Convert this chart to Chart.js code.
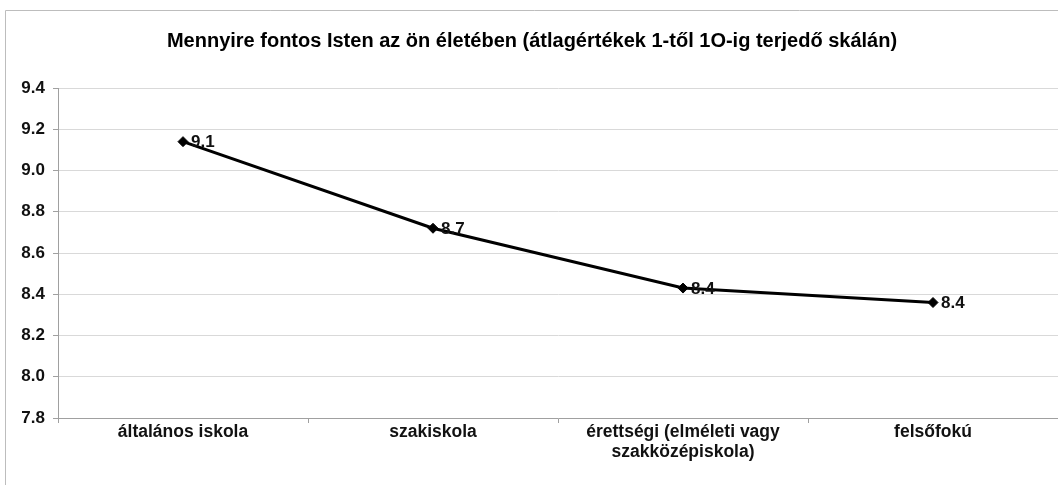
<!DOCTYPE html>
<html>
<head>
<meta charset="utf-8">
<script src="https://cdn.jsdelivr.net/npm/chart.js@4"></script>
<style>
  html, body { margin: 0; padding: 0; background: #fff; overflow: hidden; }
  #wrap { position: relative; width: 1058px; height: 485px; overflow: hidden; }
</style>
</head>
<body>
<div id="wrap"><canvas id="chart" width="1064" height="485"></canvas></div>
<script>
// -----------------------------
// Data
// -----------------------------
const chartTitle = "Mennyire fontos Isten az ön életében (átlagértékek 1-től 1O-ig terjedő skálán)";
const categories = [
  "általános iskola",
  "szakiskola",
  ["érettségi (elméleti vagy", "szakközépiskola)"],
  "felsőfokú"
];
const values = [9.14, 8.72, 8.43, 8.36];
const yMin = 7.8;
const yMax = 9.4;
const yStep = 0.2;

const FONT = "'Liberation Sans', Arial, sans-serif";

// -----------------------------
// Helper: outer frame + value labels
// -----------------------------
const framePlugin = {
  id: "frame",
  beforeDraw(chart) {
    const ctx = chart.ctx;
    ctx.save();
    ctx.strokeStyle = "#bdbdbd";
    ctx.lineWidth = 1;
    ctx.beginPath();
    ctx.moveTo(5.5, 485);
    ctx.lineTo(5.5, 10.5);
    ctx.lineTo(1064, 10.5);
    ctx.stroke();
    ctx.restore();
  }
};

const valueLabels = {
  id: "valueLabels",
  afterDatasetsDraw(chart) {
    const ctx = chart.ctx;
    const meta = chart.getDatasetMeta(0);
    ctx.save();
    ctx.font = "bold 17px " + FONT;
    ctx.fillStyle = "#111";
    ctx.textAlign = "left";
    ctx.textBaseline = "middle";
    meta.data.forEach((pt, i) => {
      ctx.fillText(values[i].toFixed(1), pt.x + 8, pt.y + 1);
    });
    ctx.restore();
  }
};

new Chart(document.getElementById("chart"), {
  type: "line",
  data: {
    labels: categories,
    datasets: [{
      data: values,
      borderColor: "#000",
      backgroundColor: "#000",
      borderWidth: 3,
      pointStyle: "rectRot",
      pointRadius: 5,
      pointBorderWidth: 1,
      tension: 0
    }]
  },
  options: {
    responsive: false,
    animation: false,
    layout: { padding: 0 },
    plugins: {
      legend: { display: false },
      tooltip: { enabled: false },
      title: {
        display: true,
        text: chartTitle,
        color: "#000",
        font: { family: FONT, size: 20, weight: "bold" },
        padding: { top: 29, bottom: 35 }
      }
    },
    scales: {
      x: {
        offset: true,
        grid: {
          offset: true,
          drawOnChartArea: false,
          drawTicks: true,
          tickLength: 5,
          color: "#a0a0a0"
        },
        border: { color: "#a0a0a0" },
        ticks: {
          color: "#111",
          font: { family: FONT, size: 17.5, weight: "bold", lineHeight: 1.15 },
          padding: -1,
          maxRotation: 0,
          autoSkip: false
        },
        afterFit(scale) { scale.height = 67; }
      },
      y: {
        min: yMin,
        max: yMax,
        grid: {
          color: "#d9d9d9",
          tickLength: 5,
          tickColor: "#a0a0a0"
        },
        border: { color: "#a0a0a0" },
        ticks: {
          stepSize: yStep,
          color: "#111",
          font: { family: FONT, size: 17, weight: "bold" },
          padding: 8,
          callback: v => Number(v).toFixed(1)
        },
        afterFit(scale) { scale.width = 58; }
      }
    }
  },
  plugins: [framePlugin, valueLabels]
});
</script>
</body>
</html>
